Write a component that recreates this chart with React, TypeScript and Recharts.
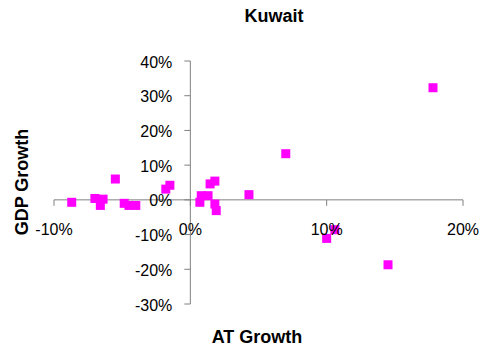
import React from 'react';
import { ScatterChart, Scatter, XAxis, YAxis, ReferenceLine, ReferenceDot } from 'recharts';

const atGrowth = [
  -0.087, -0.07, -0.064, -0.066, -0.055, -0.0485, -0.045, -0.04, -0.018, -0.015,
  0.007, 0.008, 0.013, 0.0145, 0.018, 0.018, 0.019, 0.043, 0.07, 0.1, 0.106, 0.145, 0.178,
];
const gdpGrowth = [
  -0.007, 0.004, 0.002, -0.016, 0.06, -0.01, -0.016, -0.016, 0.031, 0.042,
  -0.007, 0.012, 0.012, 0.046, 0.054, -0.012, -0.031, 0.015, 0.133, -0.111, -0.086, -0.187, 0.323,
];
const xTicks = [-0.1, 0, 0.1, 0.2];
const yTicks = [-0.3, -0.2, -0.1, 0, 0.1, 0.2, 0.3, 0.4];

const points = atGrowth.map((x, i) => ({ x, y: gdpGrowth[i] }));

const FONT = '"Liberation Sans", Arial, sans-serif';
const AXIS = '#808080';
const pct = (v: number) => `${Math.round(v * 100)}%`;

const Square = (props: any) => {
  const { cx, cy } = props;
  if (cx == null || cy == null) return null;
  return <rect x={cx - 4.5} y={cy - 4.5} width={9} height={9} fill="#ff00ff" />;
};

const xTickShape = (label: string) => (props: any) => {
  const { cx, cy } = props;
  return (
    <g>
      <line x1={cx} y1={cy} x2={cx} y2={cy + 6} stroke={AXIS} />
      <text x={cx} y={cy + 35} textAnchor="middle" fontSize={16} fontFamily={FONT} fill="#000">
        {label}
      </text>
    </g>
  );
};

const yTickShape = (label: string) => (props: any) => {
  const { cx, cy } = props;
  return (
    <g>
      <line x1={cx - 6} y1={cy} x2={cx} y2={cy} stroke={AXIS} />
      <text x={cx - 18} y={cy + 6.5} textAnchor="end" fontSize={16} fontFamily={FONT} fill="#000">
        {label}
      </text>
    </g>
  );
};

export default function App() {
  return (
    <div style={{ position: 'absolute', left: 0, top: 0, width: 484, height: 352, background: '#fff' }}>
      <ScatterChart width={484} height={352} margin={{ top: 61, left: 54, right: 21, bottom: 48 }}>
        <XAxis type="number" dataKey="x" domain={[-0.1, 0.2]} ticks={xTicks} hide />
        <YAxis type="number" dataKey="y" domain={[-0.3, 0.4]} ticks={yTicks} hide />
        <ReferenceLine x={0} stroke={AXIS} strokeWidth={1} />
        <ReferenceLine y={0} stroke={AXIS} strokeWidth={1} />
        <Scatter data={points} shape={Square} isAnimationActive={false} />
        {xTicks.map((t) => (
          <ReferenceDot key={'x' + t} x={t} y={0} ifOverflow="visible" shape={xTickShape(pct(t))} />
        ))}
        {yTicks.map((t) => (
          <ReferenceDot key={'y' + t} x={0} y={t} ifOverflow="visible" shape={yTickShape(pct(t))} />
        ))}
      </ScatterChart>
      <svg width={484} height={352} style={{ position: 'absolute', left: 0, top: 0, pointerEvents: 'none' }}>
        <text x={274} y={22} textAnchor="middle" fontSize={18} fontWeight="bold" fontFamily={FONT} fill="#000">
          Kuwait
        </text>
        <text x={257} y={343} textAnchor="middle" fontSize={18} fontWeight="bold" fontFamily={FONT} fill="#000">
          AT Growth
        </text>
        <text
          transform="translate(28,182) rotate(-90)"
          textAnchor="middle"
          fontSize={18}
          fontWeight="bold"
          fontFamily={FONT}
          fill="#000"
        >
          GDP Growth
        </text>
      </svg>
    </div>
  );
}
